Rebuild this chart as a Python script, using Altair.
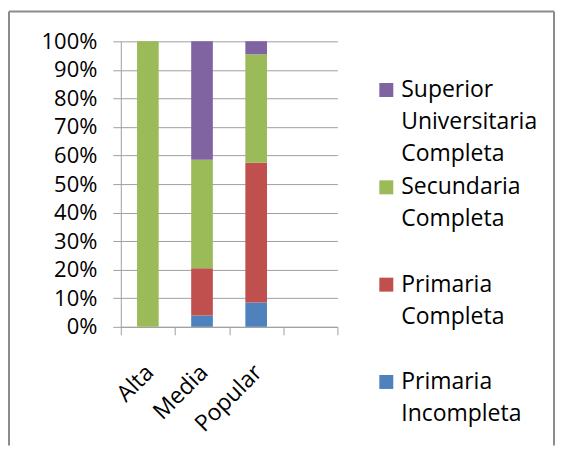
import altair as alt
import pandas as pd

groups = ["Alta", "Media", "Popular"]
slots = ["Alta", "Media", "Popular", " "]
levels = ["Primaria Incompleta", "Primaria Completa", "Secundaria Completa",
          "Superior Universitaria Completa"]
colors = ["#4F81BD", "#C0504D", "#9BBB59", "#8064A2"]

primaria_incompleta = [0, 4, 8.5]
primaria_completa = [0, 16.5, 49]
secundaria_completa = [100, 38, 38]
superior_universitaria = [0, 41.5, 4.5]
y_ticks = [0, 0.1, 0.2, 0.3, 0.4, 0.5, 0.6, 0.7, 0.8, 0.9, 1.0]

series = [primaria_incompleta, primaria_completa, secundaria_completa, superior_universitaria]
rows = []
for i, g in enumerate(groups):
    for k, (lvl, vals) in enumerate(zip(levels, series)):
        rows.append({"grupo": g, "nivel": lvl, "orden": k, "valor": vals[i]})
df = pd.DataFrame(rows)

legend_order = levels[::-1]
legend_df = pd.DataFrame({"nivel": legend_order})

FONT = "Open Sans"
GRAY = "#a0a0a0"
FRAME = "#8c8c8c"
color_scale = alt.Scale(domain=levels, range=colors)

bars = alt.Chart(df).mark_bar(width=alt.RelativeBandSize(0.4)).encode(
    x=alt.X("grupo:N", sort=slots,
            scale=alt.Scale(domain=slots, paddingInner=0, paddingOuter=0),
            axis=alt.Axis(title=None, labelAngle=-45, tickBand="extent", grid=False,
                          labelFont=FONT, labelFontSize=23, labelColor="black",
                          tickSize=8, tickColor=GRAY, domainColor=GRAY,
                          labelPadding=26, labelOffset=-6)),
    y=alt.Y("valor:Q", stack="normalize",
            scale=alt.Scale(domain=[0, 1]),
            axis=alt.Axis(title=None, format=".0%", values=y_ticks, grid=True,
                          gridColor=GRAY, tickColor=GRAY, domainColor=GRAY, tickSize=8,
                          labelFont=FONT, labelFontSize=22, labelColor="black",
                          labelPadding=16)),
    color=alt.Color("nivel:N", scale=color_scale, legend=None),
    order=alt.Order("orden:Q"),
)

frame_data = alt.Data(values=[{"k": 0}])
frame_left = alt.Chart(frame_data).mark_rule(color=FRAME, strokeWidth=2).encode(
    x=alt.value(-112), y=alt.value(-30), y2=alt.value(405))
frame_top = alt.Chart(frame_data).mark_rule(color=FRAME, strokeWidth=2).encode(
    x=alt.value(-112), x2=alt.value(434), y=alt.value(-30))
frame_right = alt.Chart(frame_data).mark_rule(color=FRAME, strokeWidth=2).encode(
    x=alt.value(434), y=alt.value(-30), y2=alt.value(405))

main = alt.layer(bars, frame_left, frame_top, frame_right).properties(width=217, height=286)

legend_base = alt.Chart(legend_df).encode(
    y=alt.Y("nivel:N", sort=legend_order,
            scale=alt.Scale(type="point", padding=0.5), axis=None))
squares = legend_base.mark_square(size=196, opacity=1).encode(
    x=alt.value(7),
    color=alt.Color("nivel:N", scale=color_scale, legend=None))
texts = legend_base.mark_text(align="left", baseline="alphabetic", dy=7, lineBreak=" ",
                              lineHeight=32, font=FONT, fontSize=23, color="black").encode(
    x=alt.value(22), text="nivel:N")
legend = alt.layer(squares, texts).properties(width=160, height=390)

chart = alt.hconcat(main, legend, spacing=42, bounds="flush").resolve_scale(
    x="independent", y="independent").properties(
    padding={"left": 0, "top": 2, "right": 0, "bottom": 0}).configure_view(stroke=None)

chart.save("out.html", embed_options={"renderer": "svg", "actions": False})
